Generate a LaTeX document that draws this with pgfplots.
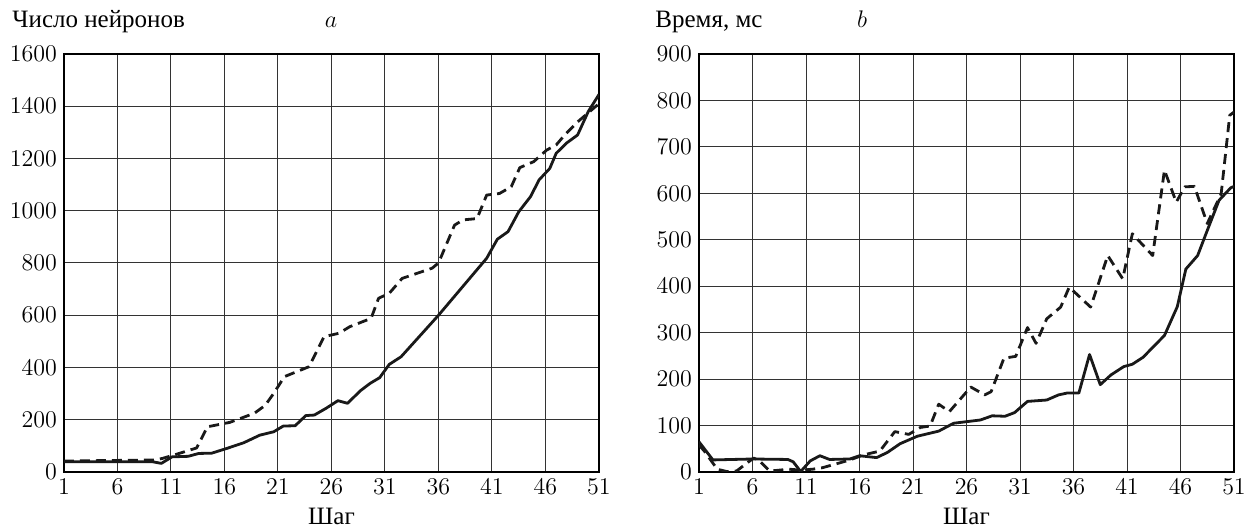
\documentclass[border=0pt]{standalone}
\usepackage{fontspec}
\usepackage{pgfplots}
\pgfplotsset{compat=1.18}
\newfontfamily\ru{Liberation Serif}
\pgfplotsset{
  myaxis/.style={
    width=267.5pt, height=209pt, scale only axis,
    xmin=1, xmax=51, xtick={1,6,...,51},
    grid=major,
    major grid style={line width=0.5pt, black!80},
    axis line style={line width=0.7pt},
    major tick length=0pt,
    tick label style={font=\fontsize{12}{14}\selectfont},
    /pgf/number format/1000 sep={},
    xlabel style={font=\fontsize{12.5}{14}\selectfont\ru},
    xlabel={Шаг},
  },
  solid curve/.style={line width=1.4pt, black!90, line join=round},
  dashed curve/.style={line width=1.4pt, black!90, dash pattern=on 5pt off 3pt, line join=round},
}
\begin{document}
\begin{tikzpicture}
\path[use as bounding box] (-32pt,-28.5pt) rectangle (590.5pt,236pt);
\begin{axis}[myaxis, at={(0,0)}, anchor=south west,
  ymin=0, ymax=1600, ytick={0,200,...,1600}]
\addplot[solid curve] coordinates {
(1,39)(9.3,39)(10.1,33)(11.1,58)(12.6,60)(13.6,71)(14.8,72)(16.2,90)(17.8,112)
(19.3,141)(20.6,154)(21.5,176)(22.6,177)(23.6,216)(24.4,218)(25.5,244)(26.6,273)
(27.5,263)(28.7,311)(29.6,339)(30.5,361)(31.4,412)(32.5,441)(36,600)(40.5,818)
(41.5,891)(42.5,920)(43.5,996)(44.6,1054)(45.4,1118)(46.4,1162)(47,1220)(48,1260)
(49,1290)(50,1380)(51,1445)};
\addplot[dashed curve] coordinates {
(1,42)(9.5,46)(10.2,52)(11.6,69)(13,87)(13.4,92)(14.4,173)(16.5,190)(18.8,225)
(19.8,255)(20.6,301)(21.6,365)(23.9,403)(25.3,518)(26.7,531)(27.7,556)(29.7,588)
(30.4,665)(31.4,684)(32.6,741)(35.4,780)(36,800)(37.5,945)(38.3,965)(39.6,970)
(40.5,1060)(41.7,1066)(42.8,1092)(43.6,1165)(44.9,1188)(46.1,1232)(47,1252)
(47.8,1290)(49,1340)(50,1375)(51,1410)};
\end{axis}
\begin{axis}[myaxis, at={(317.5pt,0)}, anchor=south west,
  ymin=0, ymax=900, ytick={0,100,...,900}]
\addplot[solid curve] coordinates {
(1,65)(2.3,26)(6,28)(9.3,27)(9.8,22)(10.5,1)(11.4,24)(12.3,35)(13.2,27)(15.1,28)
(16,35)(17.6,31)(18.6,42)(19.8,61)(21.4,77)(23.4,88)(24.8,105)(27.3,112)(28.4,121)
(29.6,120)(30.5,128)(31.7,152)(33.5,155)(34.6,166)(35.4,170)(36.5,170)(37.5,253)
(38.5,188)(39.5,209)(40.7,227)(41.5,232)(42.5,247)(44.5,294)(45.7,356)(46.5,437)
(47.6,466)(48.5,520)(49.6,585)(50.7,612)(51,615)};
\addplot[dashed curve] coordinates {
(1,58)(1.5,45)(2.7,6)(3.6,1)(4.5,2)(6.1,30)(6.6,25)(7.6,2)(9.4,6)(10.6,4)(11.6,6)
(12.5,9)(13.9,18)(15.1,26)(16.4,37)(17.9,45)(19.3,87)(20.6,81)(21.7,96)(22.6,99)
(23.4,146)(24.4,130)(26.4,183)(27.7,166)(28.3,173)(29.5,245)(30.6,249)(31.7,311)
(32.5,277)(33.5,330)(34.8,355)(35.6,398)(37.6,355)(39.2,466)(40.6,416)(41.5,513)
(43.4,466)(44.5,650)(45.6,581)(46.4,614)(47.3,615)(48.5,535)(49.8,599)(50.6,768)
(51,775)};
\end{axis}
\node[anchor=base west, inner sep=0pt, font=\fontsize{12.5}{14}\selectfont\ru] at (-26pt,222pt)
  {Число нейронов};
\node[anchor=base, inner sep=0pt, font=\fontsize{12}{14}\selectfont] at (133.5pt,222pt) {$a$};
\node[anchor=base west, inner sep=0pt, font=\fontsize{12.5}{14}\selectfont\ru] at (295.5pt,222pt)
  {Время, мс};
\node[anchor=base, inner sep=0pt, font=\fontsize{12}{14}\selectfont] at (399pt,222pt) {$b$};
\end{tikzpicture}
\end{document}
